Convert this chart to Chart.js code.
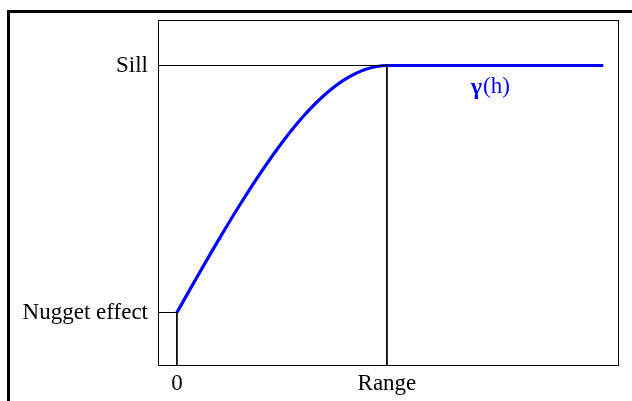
<!DOCTYPE html>
<html lang="en">
<head>
    <meta charset="UTF-8">
    <title>Variogram</title>
    <script src="https://cdn.jsdelivr.net/npm/chart.js"></script>
    <style>
        body { margin: 0; background: #fff; }
        .frame { position: absolute; left: 7px; top: 10px; width: 622px; height: 388px; border-top: 3px solid #000; border-left: 3px solid #000; }
        canvas { display: block; }
    </style>
</head>
<body>
    <div class="frame"><canvas id="chart" width="622" height="388"></canvas></div>

    <script>
        // model parameters (axis units: range = 10, sill = 1)
        const nugget = 0.2;
        const sill = 1.0;
        const range = 10;
        const xMin = -0.9, xMax = 21;
        const yMin = 0.030, yMax = 1.1474;

        // curve
        const lagValues = [0, 1, 2, 3, 4, 5, 6, 7, 8, 9, 10, 20.3];
        const gammaValues = [0.200, 0.320, 0.437, 0.549, 0.654, 0.750, 0.834, 0.903, 0.955, 0.988, 1.000, 1.000];

        const xTickValues = [0, range];
        const xTickLabels = ['0', 'Range'];
        const yTickValues = [nugget, sill];
        const yTickLabels = ['Nugget effect', 'Sill'];

        const font = { family: 'Liberation Serif', size: 23 };

        const curve = lagValues.map((x, i) => ({ x: x, y: gammaValues[i] }));

        const guide = (pts) => ({
            data: pts, borderColor: '#000', borderWidth: 1, pointRadius: 0, tension: 0
        });

        const boxPlugin = {
            id: 'box',
            afterDraw(chart) {
                const { ctx, chartArea: a, scales } = chart;
                ctx.save();
                ctx.strokeStyle = '#000';
                ctx.lineWidth = 1;
                ctx.strokeRect(a.left + 0.5, a.top + 0.5, a.right - a.left, a.bottom - a.top);
                // gamma label
                const px = scales.x.getPixelForValue(14.9);
                const py = scales.y.getPixelForValue(0.929);
                ctx.fillStyle = '#0000ff';
                ctx.textBaseline = 'middle';
                ctx.font = 'bold 24px "Liberation Serif"';
                const g = 'γ';
                const gw = ctx.measureText(g).width;
                ctx.font = '23px "Liberation Serif"';
                const h = '(h)';
                const hw = ctx.measureText(h).width;
                const startX = px - (gw + hw) / 2;
                ctx.font = 'bold 24px "Liberation Serif"';
                ctx.fillText(g, startX, py);
                ctx.font = '23px "Liberation Serif"';
                ctx.fillText(h, startX + gw + 1, py);
                ctx.restore();
            }
        };

        new Chart(document.getElementById('chart'), {
            type: 'line',
            data: {
                datasets: [
                    guide([{ x: xMin, y: sill }, { x: range, y: sill }, { x: range, y: yMin }]),
                    guide([{ x: xMin, y: nugget }, { x: 0, y: nugget }, { x: 0, y: yMin }]),
                    {
                        data: curve,
                        borderColor: '#0000ff',
                        borderWidth: 3.2,
                        pointRadius: 0,
                        cubicInterpolationMode: 'monotone'
                    }
                ]
            },
            options: {
                responsive: false,
                animation: false,
                layout: { padding: { left: 0, top: 7, right: 14, bottom: 0 } },
                plugins: { legend: { display: false }, tooltip: { enabled: false } },
                scales: {
                    x: {
                        type: 'linear', min: xMin, max: xMax,
                        grid: { display: false, drawTicks: false },
                        border: { display: false },
                        afterBuildTicks(s) { s.ticks = xTickValues.map(v => ({ value: v })); },
                        afterFit(s) { s.height = 36; s.paddingLeft = 0; s.paddingRight = 0; },
                        ticks: {
                            font: font, color: '#000', padding: 5, maxRotation: 0, autoSkip: false,
                            callback: (v) => xTickLabels[xTickValues.indexOf(v)]
                        }
                    },
                    y: {
                        type: 'linear', min: yMin, max: yMax,
                        grid: { display: false, drawTicks: false },
                        border: { display: false },
                        afterBuildTicks(s) { s.ticks = yTickValues.map(v => ({ value: v })); },
                        afterFit(s) { s.width = 148; s.paddingTop = 0; s.paddingBottom = 0; },
                        ticks: {
                            font: font, color: '#000', padding: 10, autoSkip: false,
                            callback: (v) => yTickLabels[yTickValues.indexOf(v)]
                        }
                    }
                }
            },
            plugins: [boxPlugin]
        });
    </script>
</body>
</html>
